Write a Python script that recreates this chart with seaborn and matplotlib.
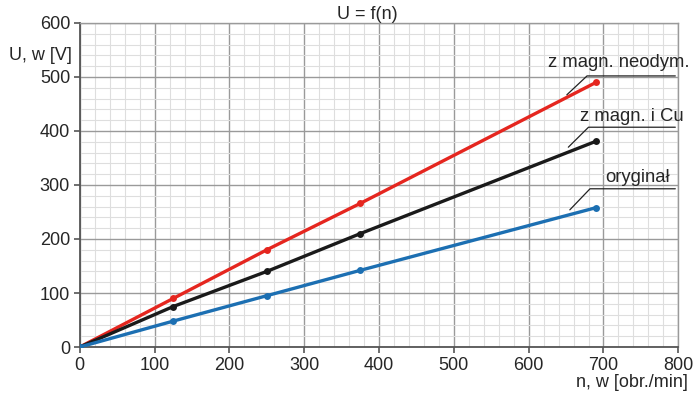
import pandas as pd
import matplotlib
matplotlib.use("Agg")
import matplotlib.pyplot as plt
from matplotlib.ticker import MultipleLocator
import seaborn as sns

sns.set_style("white")
plt.rcParams['font.family'] = ['Liberation Sans', 'DejaVu Sans']

# dane
n_obr = [0, 125, 250, 375, 690]
u_neodym = [0, 90, 180, 266, 490]
u_cu = [0, 75, 140, 210, 381]
u_oryginal = [0, 48, 95, 142, 258]
serie = ['z magn. neodym.', 'z magn. i Cu', 'oryginał']
kolory = ['#e5261f', '#1a1a1a', '#1c6fb2']

df = pd.DataFrame({
    'n': n_obr * 3,
    'U': u_neodym + u_cu + u_oryginal,
    'seria': [s for s in serie for _ in n_obr],
})

fig = plt.figure(figsize=(7, 4), dpi=100)
ax = fig.add_axes([0.114, 0.1325, 0.855, 0.81])

sns.lineplot(data=df, x='n', y='U', hue='seria', palette=kolory,
             marker='o', markersize=5, markeredgewidth=0, linewidth=2.4,
             legend=False, ax=ax, zorder=3)

ax.set_xlim(0, 800)
ax.set_ylim(0, 600)
ax.xaxis.set_major_locator(MultipleLocator(100))
ax.yaxis.set_major_locator(MultipleLocator(100))
ax.xaxis.set_minor_locator(MultipleLocator(20))
ax.yaxis.set_minor_locator(MultipleLocator(20))
ax.grid(which='major', color='#9a9a9a', linewidth=1.0)
ax.grid(which='minor', color='#dedede', linewidth=0.8)
ax.set_axisbelow(True)

for s in ['top', 'right']:
    ax.spines[s].set_color('#9a9a9a')
    ax.spines[s].set_linewidth(1.0)
for s in ['left', 'bottom']:
    ax.spines[s].set_color('#555555')
    ax.spines[s].set_linewidth(1.3)
ax.tick_params(which='major', direction='out', length=4, width=1.2,
               color='#555555', labelsize=13, pad=3, left=True, bottom=True)
ax.tick_params(which='minor', length=0)

ax.set_xlabel('')
ax.set_ylabel('')
fig.text(0.103, 0.862, 'U, w [V]', ha='right', va='center', fontsize=13)
fig.text(0.982, 0.043, 'n, w [obr./min]', ha='right', va='center', fontsize=13)
ax.set_title('U = f(n)', fontsize=13, pad=3, x=0.48)

# opisy serii z liniami odniesienia
opisy = [((651, 467), (678, 502), (720, 526)),
         ((653, 370), (680, 407), (738, 426)),
         ((655, 254), (682, 293), (746, 313))]
for (p0, p1, t), nazwa in zip(opisy, serie):
    ax.plot([p0[0], p1[0], 796], [p0[1], p1[1], p1[1]], color='#222222',
            linewidth=0.9, clip_on=False, zorder=4)
    ax.text(t[0], t[1], nazwa, ha='center', va='center', fontsize=13.3)

fig.savefig('out.png', dpi=100)
